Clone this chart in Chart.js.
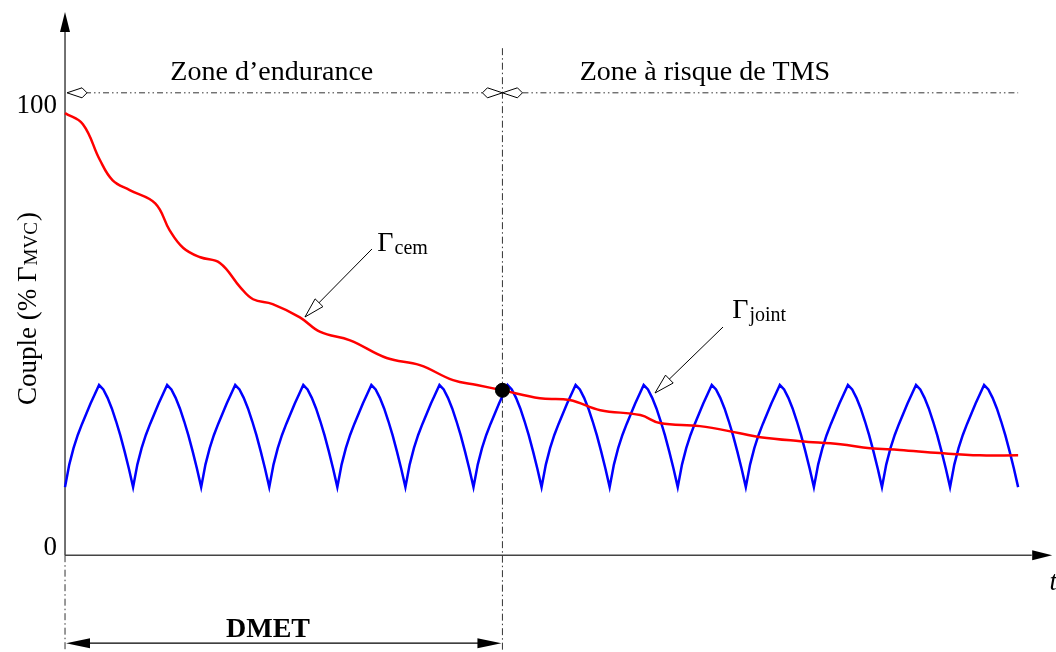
<!DOCTYPE html>
<html>
<head>
<meta charset="utf-8">
<script src="https://cdn.jsdelivr.net/npm/chart.js@4"></script>
<style>
  html, body { margin: 0; padding: 0; background: #fff; }
  #wrap { width: 1056px; height: 652px; position: relative; }
</style>
</head>
<body>
<div id="wrap"><canvas id="chart"></canvas></div>
<script>
// time axis in eighths of one joint cycle (14 cycles = 112 steps)
const cemTime = [0, 2.1, 4.1, 5.6, 7.6, 10.6, 12.3, 13.9, 15.9, 18.2, 20.6, 22.1, 24.4, 27.6, 30.0,
  33.5, 37.8, 41.7, 45.6, 48.4, 51.4, 55.8, 59.3, 62.9, 67.6, 69.9, 74.6, 79.3, 81.7, 86.4,
  91.1, 94.6, 98.1, 102.8, 107.5, 112];
const cemTorque = [100, 97.5, 89.4, 84.8, 82.6, 79.6, 73.5, 69.5, 67.4, 66.1, 60.6, 57.9, 56.8, 53.8, 50.5,
  48.6, 44.6, 43.0, 39.6, 38.5, 37.3, 35.5, 35.1, 32.8, 31.7, 29.9, 29.2, 27.6, 26.7, 25.8,
  25.1, 24.2, 23.8, 23.1, 22.6, 22.6];

// sixteen values per cycle (half a time step apart)
const jointTorque = [
  15.4, 20.5, 24.2, 27.2, 29.7, 32.0, 34.3, 36.4, 38.5, 37.5, 35.6, 33.2, 30.3, 27.1, 23.5, 19.6,
  15.4, 20.5, 24.2, 27.2, 29.7, 32.0, 34.3, 36.4, 38.5, 37.5, 35.6, 33.2, 30.3, 27.1, 23.5, 19.6,
  15.4, 20.5, 24.2, 27.2, 29.7, 32.0, 34.3, 36.4, 38.5, 37.5, 35.6, 33.2, 30.3, 27.1, 23.5, 19.6,
  15.4, 20.5, 24.2, 27.2, 29.7, 32.0, 34.3, 36.4, 38.5, 37.5, 35.6, 33.2, 30.3, 27.1, 23.5, 19.6,
  15.4, 20.5, 24.2, 27.2, 29.7, 32.0, 34.3, 36.4, 38.5, 37.5, 35.6, 33.2, 30.3, 27.1, 23.5, 19.6,
  15.4, 20.5, 24.2, 27.2, 29.7, 32.0, 34.3, 36.4, 38.5, 37.5, 35.6, 33.2, 30.3, 27.1, 23.5, 19.6,
  15.4, 20.5, 24.2, 27.2, 29.7, 32.0, 34.3, 36.4, 38.5, 37.5, 35.6, 33.2, 30.3, 27.1, 23.5, 19.6,
  15.4, 20.5, 24.2, 27.2, 29.7, 32.0, 34.3, 36.4, 38.5, 37.5, 35.6, 33.2, 30.3, 27.1, 23.5, 19.6,
  15.4, 20.5, 24.2, 27.2, 29.7, 32.0, 34.3, 36.4, 38.5, 37.5, 35.6, 33.2, 30.3, 27.1, 23.5, 19.6,
  15.4, 20.5, 24.2, 27.2, 29.7, 32.0, 34.3, 36.4, 38.5, 37.5, 35.6, 33.2, 30.3, 27.1, 23.5, 19.6,
  15.4, 20.5, 24.2, 27.2, 29.7, 32.0, 34.3, 36.4, 38.5, 37.5, 35.6, 33.2, 30.3, 27.1, 23.5, 19.6,
  15.4, 20.5, 24.2, 27.2, 29.7, 32.0, 34.3, 36.4, 38.5, 37.5, 35.6, 33.2, 30.3, 27.1, 23.5, 19.6,
  15.4, 20.5, 24.2, 27.2, 29.7, 32.0, 34.3, 36.4, 38.5, 37.5, 35.6, 33.2, 30.3, 27.1, 23.5, 19.6,
  15.4, 20.5, 24.2, 27.2, 29.7, 32.0, 34.3, 36.4, 38.5, 37.5, 35.6, 33.2, 30.3, 27.1, 23.5, 19.6,
  15.4
];

const dmetTime = 51.4;
const dmetTorque = 37.3;
const yTicks = [0, 100];
const zoneLabels = ["Zone d\u2019endurance", "Zone \u00e0 risque de TMS"];

const SERIF = "'Liberation Serif', 'DejaVu Serif', serif";

function arrowHead(ctx, x1, y1, x2, y2, len, half, open) {
  const a = Math.atan2(y2 - y1, x2 - x1);
  const bx = x2 - len * Math.cos(a), by = y2 - len * Math.sin(a);
  const nx = -Math.sin(a) * half, ny = Math.cos(a) * half;
  ctx.beginPath();
  ctx.moveTo(x2, y2);
  ctx.lineTo(bx + nx, by + ny);
  ctx.lineTo(bx - nx, by - ny);
  ctx.closePath();
  ctx.setLineDash([]);
  if (open) {
    ctx.fillStyle = "#fff";
    ctx.fill();
    ctx.lineWidth = 1;
    ctx.strokeStyle = "#000";
    ctx.stroke();
  } else {
    ctx.fillStyle = "#000";
    ctx.fill();
  }
}

// open kite arrow used on the zone line
function kite(ctx, x, y, dir) {
  ctx.beginPath();
  ctx.moveTo(x, y);
  ctx.lineTo(x + dir * 15, y - 5);
  ctx.lineTo(x + dir * 20, y);
  ctx.lineTo(x + dir * 15, y + 5);
  ctx.closePath();
  ctx.setLineDash([]);
  ctx.fillStyle = "#fff";
  ctx.fill();
  ctx.lineWidth = 1;
  ctx.strokeStyle = "#000";
  ctx.stroke();
}

function gammaLabel(ctx, x, y, sub) {
  ctx.fillStyle = "#000";
  ctx.textAlign = "left";
  ctx.textBaseline = "alphabetic";
  ctx.font = "28px " + SERIF;
  ctx.fillText("\u0393", x, y);
  const w = ctx.measureText("\u0393").width;
  ctx.font = "20px " + SERIF;
  ctx.fillText(sub, x + w + 1, y + 3);
}

const schemePlugin = {
  id: "scheme",
  beforeDatasetsDraw(chart) {
    const ctx = chart.ctx;
    const xs = chart.scales.x, ys = chart.scales.y;
    const px = (u) => xs.getPixelForValue(u);
    const py = (v) => ys.getPixelForValue(v);
    ctx.save();

    // axes
    ctx.strokeStyle = "#444";
    ctx.lineWidth = 1.5;
    ctx.setLineDash([]);
    ctx.beginPath();
    ctx.moveTo(px(0), py(0));
    ctx.lineTo(px(0), py(120.5));
    ctx.moveTo(px(0), py(0));
    ctx.lineTo(px(113.6), py(0));
    ctx.stroke();
    arrowHead(ctx, px(0), py(0), px(0), py(122.9), 20, 5, false);
    arrowHead(ctx, px(0), py(0), px(116), py(0), 20, 5, false);

    // dash-dot verticals
    ctx.strokeStyle = "#333";
    ctx.lineWidth = 1;
    ctx.setLineDash([7, 3, 1.5, 3]);
    ctx.beginPath();
    ctx.moveTo(px(dmetTime), py(114.7));
    ctx.lineTo(px(dmetTime), py(-21.9));
    ctx.moveTo(px(0), py(0));
    ctx.lineTo(px(0), py(-21.9));
    ctx.stroke();

    // zone line
    const zy = py(104.6);
    ctx.setLineDash([6, 3, 1.5, 3, 1.5, 3]);
    ctx.beginPath();
    ctx.moveTo(px(0) + 20, zy);
    ctx.lineTo(px(dmetTime) - 20, zy);
    ctx.moveTo(px(dmetTime) + 20, zy);
    ctx.lineTo(px(112), zy);
    ctx.stroke();
    kite(ctx, px(0) + 2, zy, 1);
    kite(ctx, px(dmetTime), zy, -1);
    kite(ctx, px(dmetTime), zy, 1);

    ctx.restore();
  },
  afterDatasetsDraw(chart) {
    const ctx = chart.ctx;
    const xs = chart.scales.x, ys = chart.scales.y;
    const px = (u) => xs.getPixelForValue(u);
    const py = (v) => ys.getPixelForValue(v);
    ctx.save();
    ctx.fillStyle = "#000";

    // tick labels
    ctx.font = "27px " + SERIF;
    ctx.textAlign = "right";
    ctx.textBaseline = "alphabetic";
    yTicks.forEach((t) => ctx.fillText(String(t), px(0) - 8, py(t)));

    // zone titles
    ctx.font = "28px " + SERIF;
    ctx.textAlign = "center";
    ctx.fillText(zoneLabels[0], px(24.3), py(107.5));
    ctx.fillText(zoneLabels[1], px(75.2), py(107.5));

    // x axis name, cut at the right edge
    ctx.font = "italic 27px " + SERIF;
    ctx.textAlign = "left";
    ctx.fillText("t", px(115.7), py(-7.9));

    // y axis title
    ctx.save();
    ctx.translate(px(-4.3), py(55.8));
    ctx.rotate(-Math.PI / 2);
    ctx.textBaseline = "middle";
    ctx.font = "27px " + SERIF;
    const p1 = "Couple (% \u0393", p2 = "MVC", p3 = ")";
    const w1 = ctx.measureText(p1).width;
    ctx.font = "19px " + SERIF;
    const w2 = ctx.measureText(p2).width;
    ctx.font = "27px " + SERIF;
    const w3 = ctx.measureText(p3).width;
    let x0 = -(w1 + w2 + 2 + w3) / 2;
    ctx.textAlign = "left";
    ctx.fillText(p1, x0, 0);
    ctx.font = "19px " + SERIF;
    ctx.fillText(p2, x0 + w1 + 1, 4);
    ctx.font = "27px " + SERIF;
    ctx.fillText(p3, x0 + w1 + w2 + 2, 0);
    ctx.restore();

    // DMET double arrow
    const dy = py(-19.9);
    ctx.strokeStyle = "#000";
    ctx.lineWidth = 1.2;
    ctx.setLineDash([]);
    ctx.beginPath();
    ctx.moveTo(px(0) + 10, dy);
    ctx.lineTo(px(dmetTime) - 10, dy);
    ctx.stroke();
    arrowHead(ctx, px(dmetTime), dy, px(0) + 1, dy, 24, 5, false);
    arrowHead(ctx, px(0), dy, px(dmetTime) - 1, dy, 24, 5, false);
    ctx.font = "bold 28px " + SERIF;
    ctx.textAlign = "center";
    ctx.fillText("DMET", px(23.85), py(-18.5));

    // curve labels with open arrows
    ctx.strokeStyle = "#000";
    ctx.lineWidth = 1;
    ctx.beginPath();
    ctx.moveTo(px(36.07), py(69.27));
    ctx.lineTo(px(28.2), py(53.89));
    ctx.moveTo(px(77.32), py(51.62));
    ctx.lineTo(px(69.33), py(36.69));
    ctx.stroke();
    arrowHead(ctx, px(36.07), py(69.27), px(28.2), py(53.89), 20, 5.5, true);
    arrowHead(ctx, px(77.32), py(51.62), px(69.33), py(36.69), 20, 5.5, true);
    gammaLabel(ctx, px(36.7), py(68.8), "cem");
    gammaLabel(ctx, px(78.4), py(53.6), "joint");

    ctx.restore();
  },
};

new Chart(document.getElementById("chart"), {
  type: "line",
  data: {
    datasets: [
      {
        label: "cem",
        data: cemTime.map((t, i) => ({ x: t, y: cemTorque[i] })),
        borderColor: "#ff0000",
        borderWidth: 2.5,
        pointRadius: 0,
        tension: 0.4,
        fill: false,
        order: 2,
      },
      {
        label: "joint",
        data: jointTorque.map((v, i) => ({ x: i / 2, y: v })),
        borderColor: "#0000ff",
        borderWidth: 2.5,
        pointRadius: 0,
        tension: 0,
        fill: false,
        order: 3,
      },
      {
        type: "scatter",
        label: "DMET",
        data: [{ x: dmetTime, y: dmetTorque }],
        backgroundColor: "#000",
        borderColor: "#000",
        pointRadius: 7,
        order: 1,
      },
    ],
  },
  options: {
    responsive: true,
    maintainAspectRatio: false,
    animation: false,
    layout: { padding: 0, autoPadding: false },
    plugins: {
      legend: { display: false },
      tooltip: { enabled: false },
    },
    scales: {
      x: { type: "linear", min: -7.64, max: 116.45, display: false },
      y: { type: "linear", min: -21.9, max: 125.6, display: false },
    },
  },
  plugins: [schemePlugin],
});
</script>
</body>
</html>
